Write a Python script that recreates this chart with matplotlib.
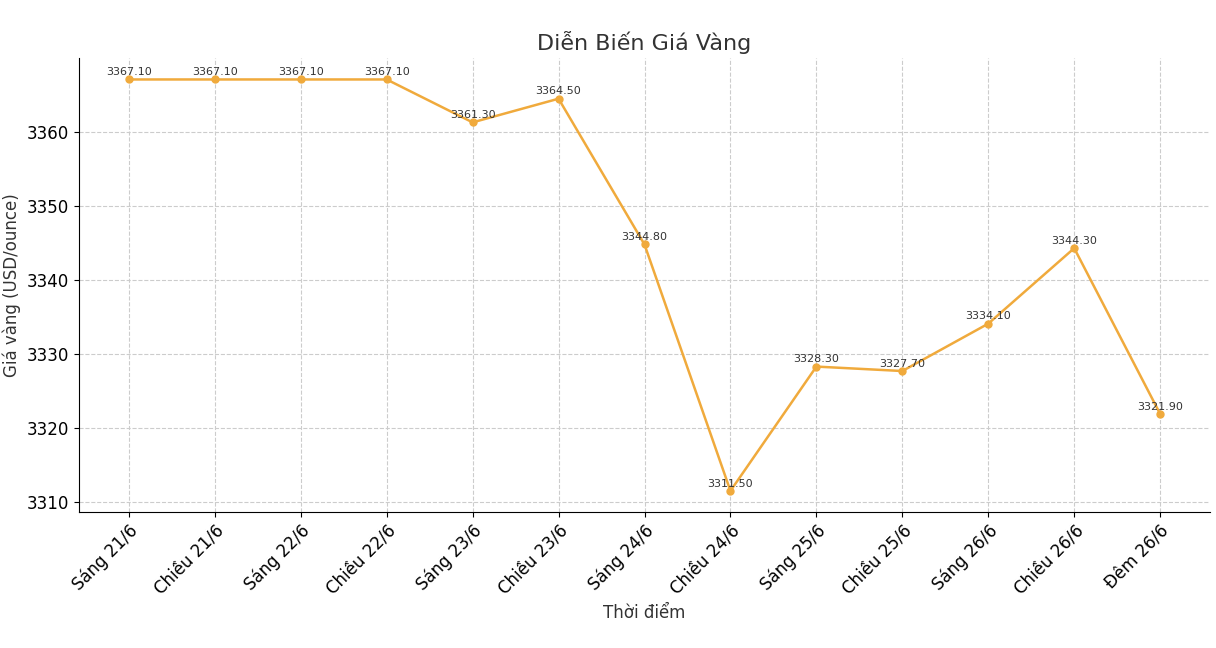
import matplotlib
matplotlib.use("Agg")
import matplotlib.pyplot as plt

TIMES = ["Sáng 21/6", "Chiều 21/6", "Sáng 22/6", "Chiều 22/6", "Sáng 23/6", "Chiều 23/6",
         "Sáng 24/6", "Chiều 24/6", "Sáng 25/6", "Chiều 25/6", "Sáng 26/6", "Chiều 26/6", "Đêm 26/6"]
PRICES = [3367.10, 3367.10, 3367.10, 3367.10, 3361.30, 3364.50,
          3344.80, 3311.50, 3328.30, 3327.70, 3334.10, 3344.30, 3321.90]

LINE_COLOR = "#f0aa3c"

fig = plt.figure(figsize=(12.16, 6.48), dpi=100)
ax = fig.add_axes([79 / 1216, 1 - 512 / 648, (1210 - 79) / 1216, (512 - 58) / 648])

x = list(range(len(TIMES)))
ax.plot(x, PRICES, color=LINE_COLOR, linewidth=1.8, marker="o", markersize=5)
for xi, p in zip(x, PRICES):
    ax.text(xi, p + 0.3, f"{p:.2f}", ha="center", va="bottom", fontsize=8, color="#333333")

ax.set_xlim(-0.58, 12.58)
ax.set_ylim(3308.65, 3370.0)
ax.set_yticks([3310, 3320, 3330, 3340, 3350, 3360])
ax.set_xticks(x)
ax.set_xticklabels(TIMES, rotation=45, ha="right", rotation_mode="anchor", fontsize=12)
ax.tick_params(axis="y", labelsize=12)
ax.grid(True, linestyle="--", color="#cccccc", linewidth=0.8)
ax.set_axisbelow(True)
for s in ("top", "right"):
    ax.spines[s].set_visible(False)

ax.set_title("Diễn Biến Giá Vàng", fontsize=16, color="#333333", pad=6)
ax.set_xlabel("Thời điểm", fontsize=12, color="#333333")
ax.set_ylabel("Giá vàng (USD/ounce)", fontsize=12, color="#333333")

fig.savefig("out.png", dpi=100, facecolor="white")
